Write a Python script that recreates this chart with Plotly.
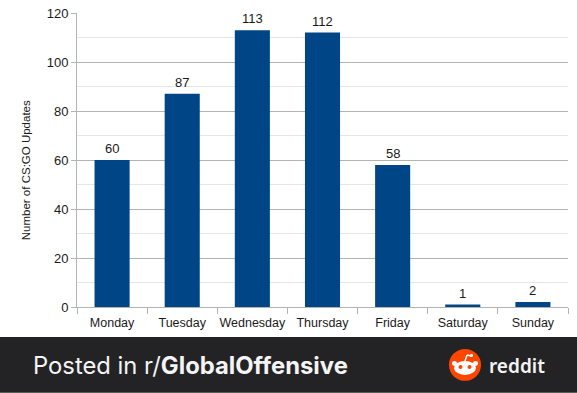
import plotly.graph_objects as go

days = ["Monday", "Tuesday", "Wednesday", "Thursday", "Friday", "Saturday", "Sunday"]
updates = [60, 87, 113, 112, 58, 1, 2]
y_title = "Number of CS:GO Updates"

W, H = 577, 393
L, R, T, B = 77, 568, 12.5, 307


def px(x):
    return (x - L) / (R - L)


def py(y):
    return (B - y) / (B - T)


def box(x0, y0, x1, y1, color, kind="rect"):
    return dict(type=kind, xref="paper", yref="paper", x0=px(x0), x1=px(x1), y0=py(y1), y1=py(y0),
                fillcolor=color, line=dict(width=0, color=color), layer="above")


def seg(x0, y0, x1, y1, color, w=1.5):
    return dict(type="line", xref="paper", yref="paper", x0=px(x0), x1=px(x1), y0=py(y0), y1=py(y1),
                line=dict(color=color, width=w), layer="above")


def note(x, y, text, size, color, family, anchor="left", angle=0, weight="normal"):
    return dict(xref="paper", yref="paper", x=px(x), y=py(y), text=text, showarrow=False, xanchor=anchor,
                yanchor="middle", textangle=angle,
                font=dict(size=size, color=color, family=family, weight=weight))


fig = go.Figure(go.Bar(
    x=days, y=updates, width=0.5, marker=dict(color="#004586", line=dict(width=0)), cliponaxis=False,
))

orange, white, dark = "#ff4500", "#ffffff", "#232325"
shapes = [
    box(0, 337, W, H, dark),
    box(449, 349, 481, 381, orange, "circle"),
    box(454, 361, 476, 375, white, "circle"),
    box(452, 361, 457, 366, white, "circle"),
    box(473, 361, 478, 366, white, "circle"),
    box(458.5, 365, 462.5, 369, orange, "circle"),
    box(467.5, 365, 471.5, 369, orange, "circle"),
    seg(465, 361, 467, 355, white),
    seg(467, 355, 471, 356, white),
    box(470, 354, 473, 357, white, "circle"),
]

value_labels = [
    dict(xref="x", yref="y", x=d, y=v, text=str(v), showarrow=False, yanchor="bottom", yshift=2,
         font=dict(size=13, color="#1a1a1a", family="Liberation Sans"))
    for d, v in zip(days, updates)
]

fig.update_layout(
    width=W, height=H, autosize=False,
    margin=dict(l=L, r=W - R, t=T, b=H - B, pad=0, autoexpand=False),
    paper_bgcolor="white", plot_bgcolor="white", showlegend=False, bargap=0.5,
    font=dict(family="Liberation Sans", color="#1a1a1a", size=12.5),
    xaxis=dict(
        type="category", tickson="boundaries", ticks="outside", ticklen=6, tickcolor="#b3b3b3",
        showgrid=False, showline=True, linecolor="#b3b3b3", tickangle=0, ticklabelstandoff=4,
        linewidth=1, tickfont=dict(size=12.5, color="#1a1a1a"), range=[-0.5, 6.5],
    ),
    yaxis=dict(
        range=[0, 120], dtick=20, ticks="outside", ticklen=5, tickcolor="#b3b3b3",
        showgrid=True, gridcolor="#b3b3b3", gridwidth=1, showline=True, linecolor="#b3b3b3",
        linewidth=1, zeroline=False, tickfont=dict(size=13, color="#1a1a1a"),
        minor=dict(dtick=10, showgrid=True, gridcolor="#e6e6e6", gridwidth=1, ticks=""),
    ),
    shapes=shapes,
    annotations=value_labels + [
        note(26, 170, y_title, 11.5, "#1a1a1a", "Liberation Sans", "center", -90),
        note(30.5, 366, "Posted in r/<b>GlobalOffensive</b>", 23.8, "#f4f4f4", "Inter"),
        note(487, 366, "reddit", 19, "#f4f4f4", "Noto Sans", weight=600),
    ],
)

fig.write_html(
    "out.html",
    config=dict(displayModeBar=False),
    post_script="document.body.style.margin='0';document.body.style.overflow='hidden';Plotly.Plots.resize(document.querySelector('.plotly-graph-div'));",
)
